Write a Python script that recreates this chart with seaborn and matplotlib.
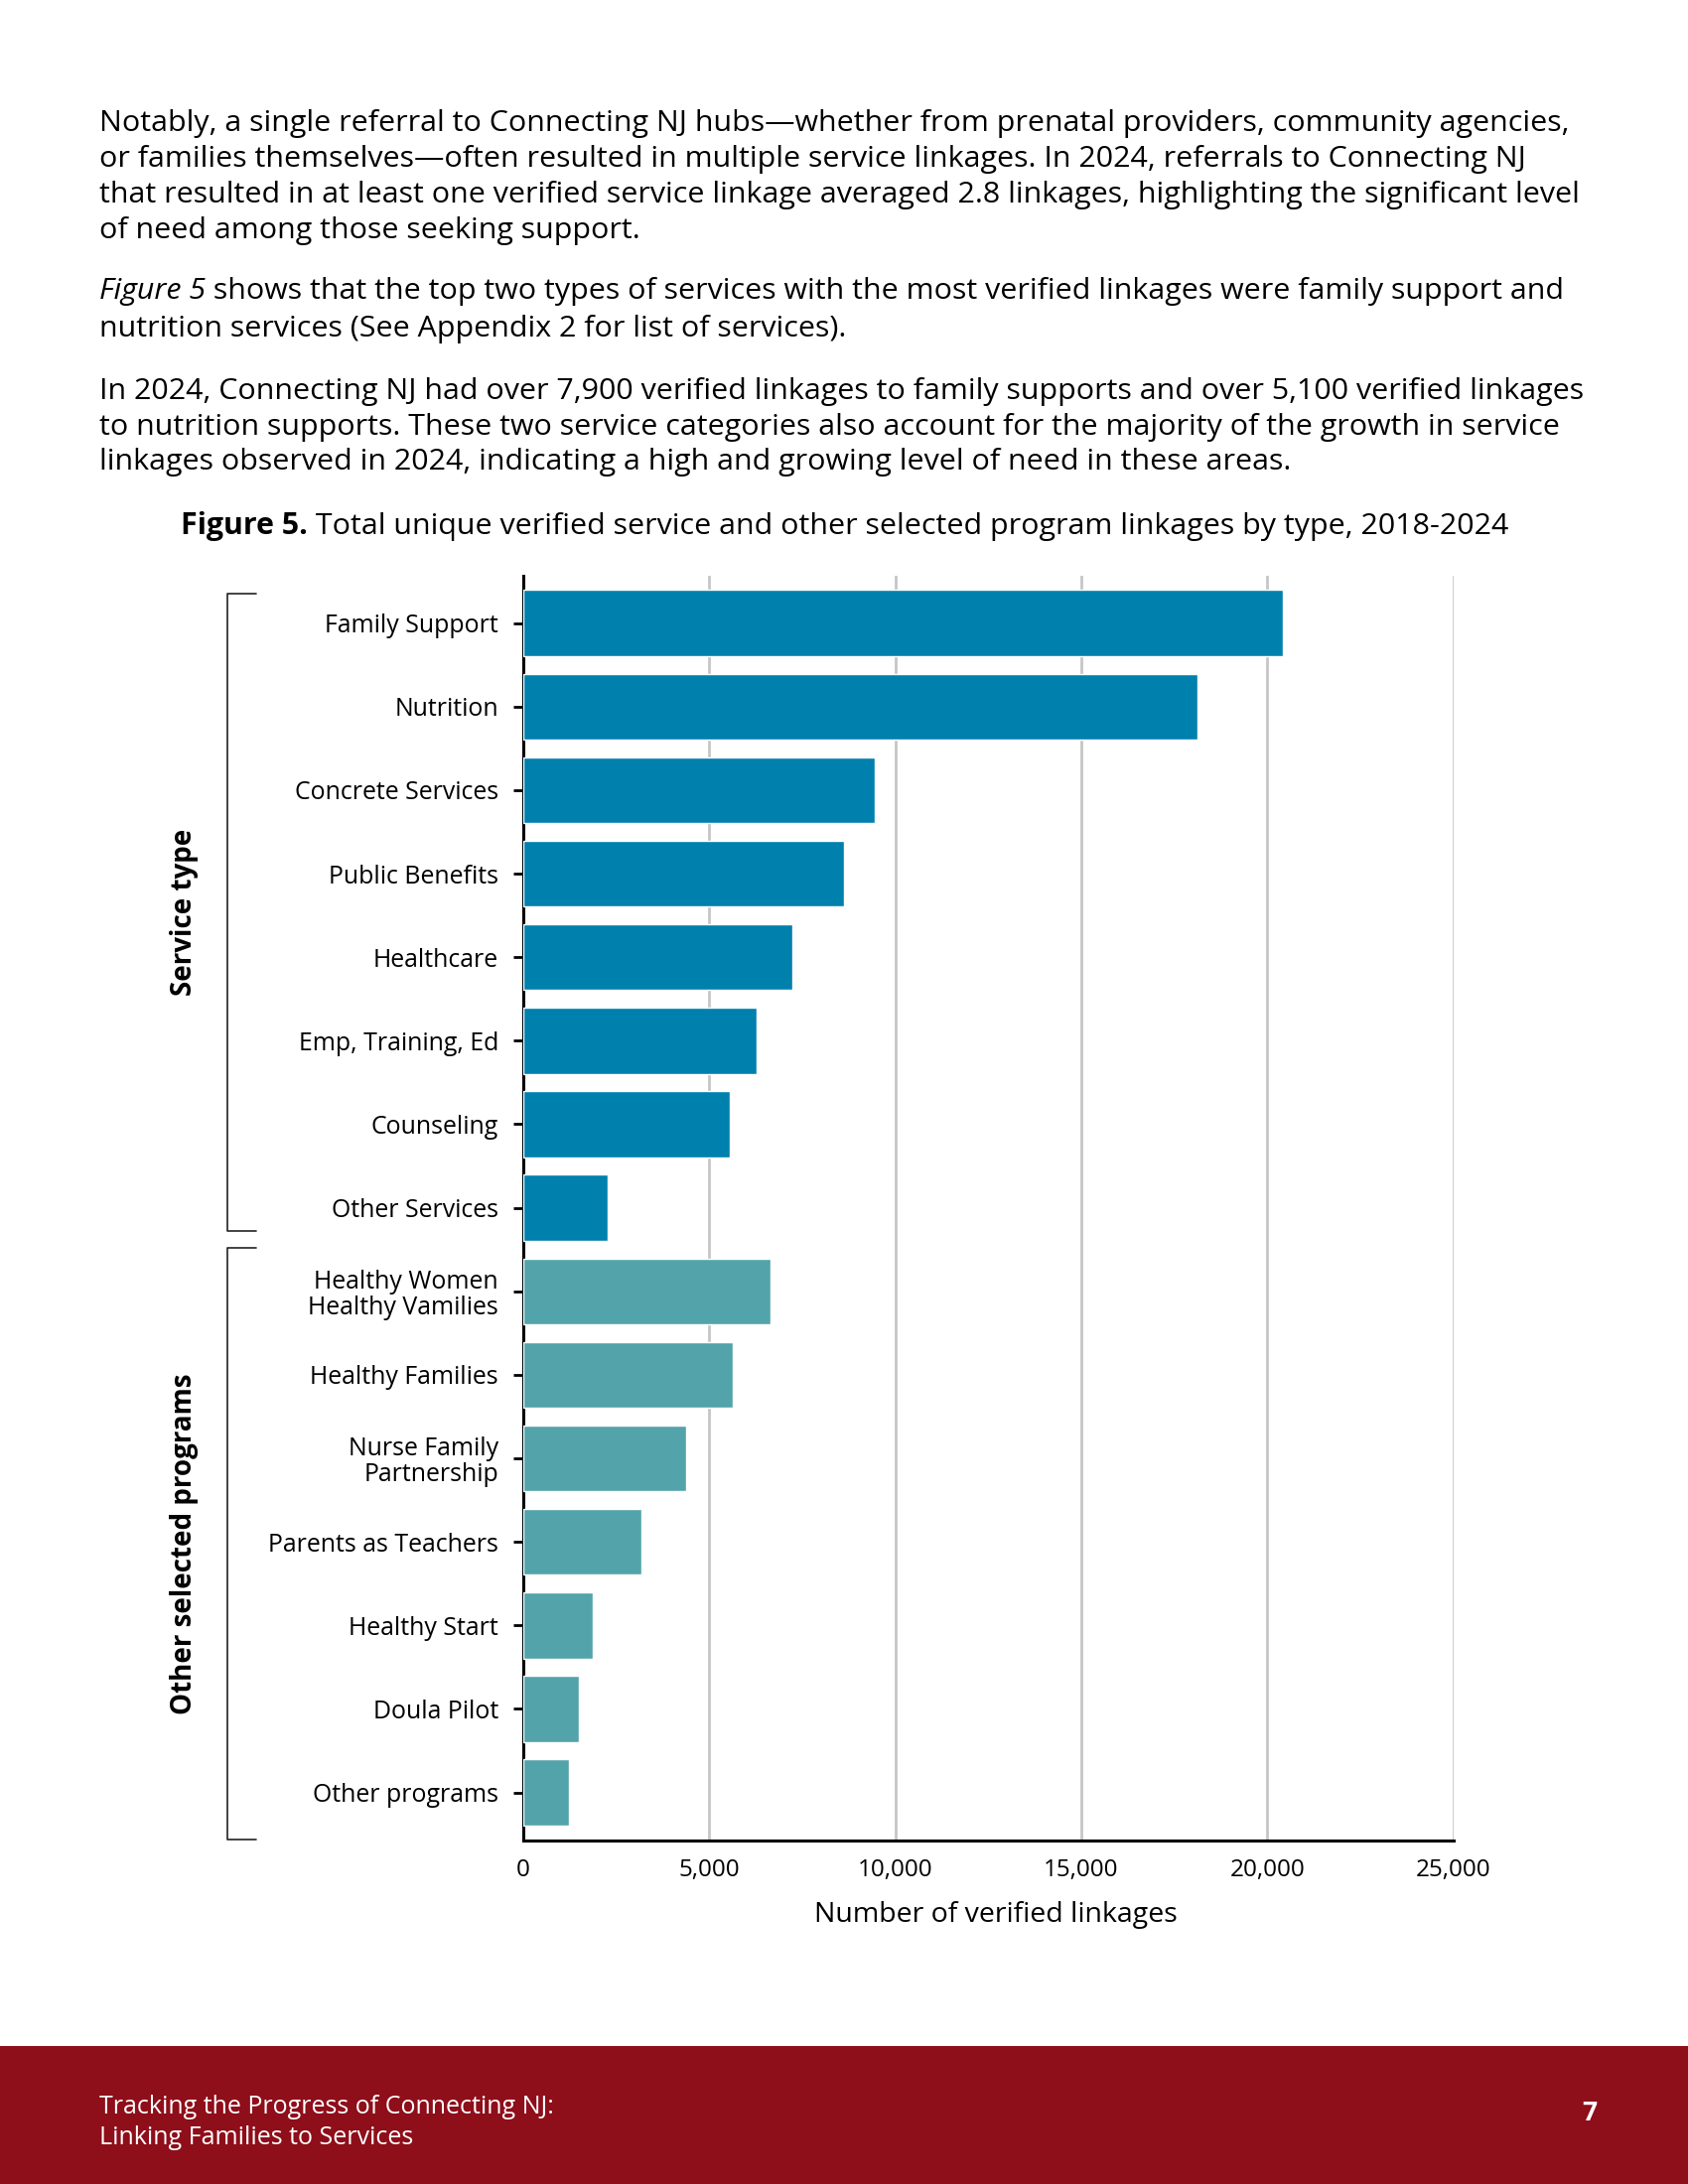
import numpy as np
import pandas as pd
import matplotlib
matplotlib.use('Agg')
import matplotlib.pyplot as plt
from matplotlib import transforms
from matplotlib.lines import Line2D
from matplotlib.patches import Rectangle
import seaborn as sns

# data
service_labels = ['Family Support', 'Nutrition', 'Concrete Services', 'Public Benefits',
                  'Healthcare', 'Emp, Training, Ed', 'Counseling', 'Other Services']
service_values = [20420, 18130, 9450, 8620, 7240, 6270, 5560, 2280]
program_labels = ['Healthy Women\nHealthy Vamilies', 'Healthy Families',
                  'Nurse Family\nPartnership', 'Parents as Teachers', 'Healthy Start',
                  'Doula Pilot', 'Other programs']
program_values = [6650, 5640, 4370, 3170, 1880, 1490, 1230]
group_names = ['Service type', 'Other selected programs']
x_ticks = [0, 5000, 10000, 15000, 20000, 25000]

df = pd.DataFrame({
    'label': service_labels + program_labels,
    'value': service_values + program_values,
    'group': [group_names[0]] * len(service_labels) + [group_names[1]] * len(program_labels),
})

sns.set_theme(style='white')
plt.rcParams['font.family'] = ['Open Sans', 'DejaVu Sans']
plt.rcParams['text.color'] = 'black'
plt.rcParams['axes.labelcolor'] = 'black'
plt.rcParams['xtick.color'] = 'black'
plt.rcParams['ytick.color'] = 'black'

fig = plt.figure(figsize=(17, 22), dpi=100)
ax = fig.add_axes([0.310, 0.1575, 0.551, 0.579])

sns.barplot(data=df, x='value', y='label', hue='group',
            palette={group_names[0]: '#0080ad', group_names[1]: '#53a3aa'},
            dodge=False, width=0.79, saturation=1, legend=False, ax=ax, zorder=3)

ax.set_xlim(0, 25000)
ax.set_ylim(len(df) - 0.43, -0.57)
ax.set_xticks(x_ticks)
ax.set_xticklabels([f'{t:,}' for t in x_ticks], fontsize=17.5)
ax.xaxis.grid(True, color='#c6c6c6', linewidth=2, zorder=0)
ax.yaxis.grid(False)
ax.set_axisbelow(True)
for s in ['top', 'right']:
    ax.spines[s].set_visible(False)
for s in ['left', 'bottom']:
    ax.spines[s].set_color('black')
    ax.spines[s].set_linewidth(2.2)
ax.tick_params(axis='x', length=0, pad=13)
ax.tick_params(axis='y', length=7, width=2, color='black', pad=11, labelsize=17.9, left=True)
for t in ax.get_yticklabels():
    t.set_linespacing(1.05)
ax.set_ylabel('')
ax.set_xlabel('Number of verified linkages', fontsize=20.5, labelpad=14)
ax.xaxis.label.set_x(0.508)

# group brackets
tr = transforms.blended_transform_factory(fig.transFigure, ax.transData)
n1 = len(service_labels)
brackets = [(-0.35, n1 - 1 + 0.28), (n1 - 0.52, len(df) - 0.43)]
for name, (y0, y1) in zip(group_names, brackets):
    xs = [0.1518, 0.1345, 0.1345, 0.1518]
    ys = [y0, y0, y1, y1]
    fig.add_artist(Line2D(xs, ys, transform=tr, color='#222222', linewidth=1.2))
    fig.text(0.109, (y0 + y1) / 2, name, transform=tr, rotation=90, ha='center',
             va='center', fontsize=20, fontweight='bold')

# body text
body = 21.9
x0 = 0.0586
lines1 = [
    'Notably, a single referral to Connecting NJ hubs\u2014whether from prenatal providers, community agencies,',
    'or families themselves\u2014often resulted in multiple service linkages. In 2024, referrals to Connecting NJ',
    'that resulted in at least one verified service linkage averaged 2.8 linkages, highlighting the significant level',
    'of need among those seeking support.',
]
ys1 = [0.9432, 0.9272, 0.9107, 0.8941]
for t, y in zip(lines1, ys1):
    fig.text(x0, y, t, fontsize=body, va='center')

renderer = fig.canvas.get_renderer()
it = fig.text(x0, 0.8666, 'Figure 5', fontsize=body, va='center', style='italic')
w = it.get_window_extent(renderer).width / fig.bbox.width
fig.text(x0 + w, 0.8666, ' shows that the top two types of services with the most verified linkages were family support and',
         fontsize=body, va='center')
fig.text(x0, 0.8494, 'nutrition services (See Appendix 2 for list of services).', fontsize=body, va='center')

lines3 = [
    'In 2024, Connecting NJ had over 7,900 verified linkages to family supports and over 5,100 verified linkages',
    'to nutrition supports. These two service categories also account for the majority of the growth in service',
    'linkages observed in 2024, indicating a high and growing level of need in these areas.',
]
ys3 = [0.8207, 0.8041, 0.7882]
for t, y in zip(lines3, ys3):
    fig.text(x0, y, t, fontsize=body, va='center')

# caption
cap_b = fig.text(0, 0.7590, 'Figure 5.', fontsize=body, fontweight='bold', va='center')
cap_r = fig.text(0, 0.7590, ' Total unique verified service and other selected program linkages by type, 2018-2024',
                 fontsize=body, va='center')
wb = cap_b.get_window_extent(renderer).width / fig.bbox.width
wr = cap_r.get_window_extent(renderer).width / fig.bbox.width
start = 0.5004 - (wb + wr) / 2
cap_b.set_x(start)
cap_r.set_x(start + wb)

# footer
fig.add_artist(Rectangle((0, 0), 1, 0.0631, transform=fig.transFigure,
                         facecolor='#8e0e1a', edgecolor='none'))
fig.text(x0, 0.0352, 'Tracking the Progress of Connecting NJ:', color='white', fontsize=18, va='center')
fig.text(x0, 0.0212, 'Linking Families to Services', color='white', fontsize=18, va='center')
fig.text(0.9414, 0.0327, '7', color='white', fontsize=19, fontweight='bold', va='center', ha='center')

fig.savefig('out.png', dpi=100, facecolor='white')
